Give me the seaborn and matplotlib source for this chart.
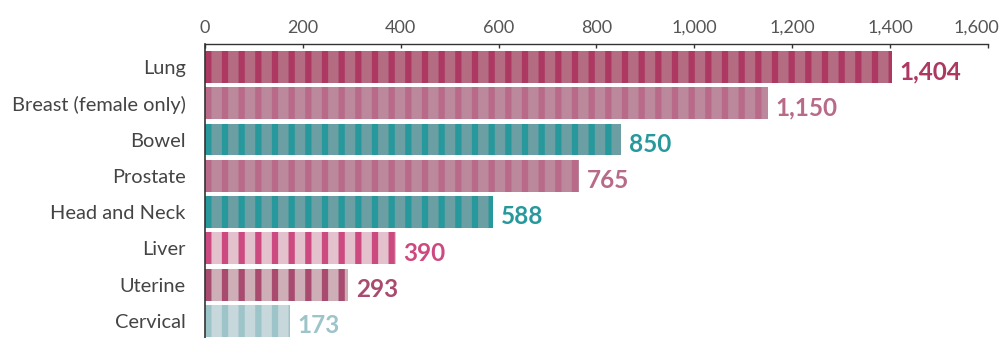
import matplotlib
matplotlib.use("Agg")
import matplotlib.pyplot as plt
from matplotlib.ticker import FuncFormatter
from matplotlib.transforms import ScaledTranslation
import seaborn as sns

# ==============================
# Data
# ==============================
categories = ["Lung", "Breast (female only)", "Bowel", "Prostate",
              "Head and Neck", "Liver", "Uterine", "Cervical"]
values = [1404, 1150, 850, 765, 588, 390, 293, 173]
value_labels = ["1,404", "1,150", "850", "765", "588", "390", "293", "173"]
x_ticks = [0, 200, 400, 600, 800, 1000, 1200, 1400, 1600]

# bar fill (light) and stripe / label (dark) colours
fill_colors = ["#c0607e", "#c4819a", "#62a7ac", "#c4819a",
               "#62a7ac", "#e8bccb", "#d3aab6", "#c3dbde"]
stripe_colors = ["#ad3861", "#b86a88", "#27999c", "#b86a88",
                 "#27999c", "#cc4a7f", "#a84b6f", "#9dc4c9"]

# ==============================
# Plot
# ==============================
sns.set_style("white")
plt.rcParams["font.family"] = ["Lato", "DejaVu Sans"]
plt.rcParams["hatch.linewidth"] = 4.5

fig = plt.figure(figsize=(10.01, 3.38), dpi=100)
ax = fig.add_axes([0.2048, 0.0, 0.782, 0.870])

sns.barplot(x=values, y=categories, hue=categories, palette=fill_colors,
            legend=False, orient="h", width=0.88, linewidth=0, ax=ax)

# brush-stroke look: vertical stripes in the darker shade
for patch, dark in zip(ax.patches, stripe_colors):
    patch.set_hatch("|")
    patch.set_edgecolor(dark)
    patch.set_linewidth(0)

# value labels
for i, (v, lab, c) in enumerate(zip(values, value_labels, stripe_colors)):
    ax.text(v + 16, i + 0.13, lab, color=c, fontsize=17.5, fontweight="bold",
            va="center", ha="left")

ax.set_xlim(0, 1600)
ax.set_ylim(7.47, -0.634)
ax.set_xticks(x_ticks)
ax.xaxis.set_major_formatter(FuncFormatter(lambda x, _: f"{int(x):,}"))
ax.xaxis.tick_top()
ax.tick_params(axis="x", direction="in", length=3, width=1, color="#333333",
               labelsize=13, labelcolor="#555555", pad=6)
ax.tick_params(axis="y", length=0, labelsize=14.4, labelcolor="#444444", pad=14)
ax.set_xlabel("")
ax.set_ylabel("")

# keep the last tick label inside the canvas
last = ax.get_xticklabels()[-1]
last.set_transform(last.get_transform() + ScaledTranslation(-0.11, 0, fig.dpi_scale_trans))

for side in ["right", "bottom"]:
    ax.spines[side].set_visible(False)
ax.spines["top"].set_color("#333333")
ax.spines["left"].set_color("#333333")
ax.spines["top"].set_linewidth(1)
ax.spines["left"].set_linewidth(1.2)

fig.savefig("out.png", dpi=100)
